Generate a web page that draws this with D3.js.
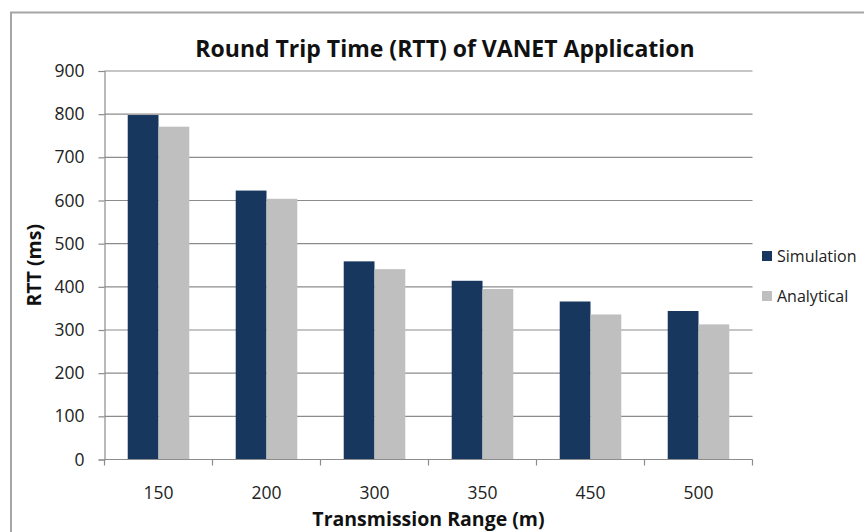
<!DOCTYPE html>
<html>
<head>
<meta charset="utf-8">
<script src="https://cdn.jsdelivr.net/npm/d3@7"></script>
<style>
  html, body { margin: 0; padding: 0; background: #fff; }
  svg { display: block; font-family: "Open Sans", Lato, sans-serif; }
</style>
</head>
<body>
<svg id="chart" width="864" height="532"></svg>
<script>
// Transmission ranges (m) along the x axis
const categories = ["150", "200", "300", "350", "450", "500"];
// Round trip time (ms) per range
const simulation = [798, 623, 459, 414, 366, 344];
const analytical = [771, 604, 441, 395, 336, 313];
const seriesNames = ["Simulation", "Analytical"];
const seriesColors = ["#17375E", "#BFBFBF"];
const yTicks = [0, 100, 200, 300, 400, 500, 600, 700, 800, 900];

const svg = d3.select("#chart");
const W = 864, H = 532;
const plot = { left: 104.5, right: 752.5, top: 71, bottom: 459.5 };
const axisColor = "#8C8C8C";

// Outer chart frame
svg.append("rect")
  .attr("x", 11).attr("y", 12.5)
  .attr("width", W + 20).attr("height", H + 20)
  .attr("fill", "#fff").attr("stroke", "#A6A6A6").attr("stroke-width", 2);

const x0 = d3.scaleBand().domain(categories)
  .range([plot.left, plot.right]).paddingInner(0.43).paddingOuter(0.215);
const x1 = d3.scaleBand().domain(seriesNames).range([0, x0.bandwidth()]);
const y = d3.scaleLinear().domain([0, 900]).range([plot.bottom, plot.top]);

// Horizontal gridlines
svg.append("g").selectAll("line").data(yTicks.filter(d => d > 0)).join("line")
  .attr("x1", plot.left).attr("x2", plot.right)
  .attr("y1", d => y(d)).attr("y2", d => y(d))
  .attr("stroke", axisColor).attr("stroke-width", 1.2);

// Bars
const rows = categories.map((c, i) => ({ cat: c, vals: [simulation[i], analytical[i]] }));
const groups = svg.append("g").selectAll("g").data(rows).join("g")
  .attr("transform", d => `translate(${x0(d.cat)},0)`);
groups.selectAll("rect").data(d => d.vals.map((v, j) => ({ v, s: seriesNames[j], j })))
  .join("rect")
  .attr("x", d => x1(d.s))
  .attr("y", d => y(d.v))
  .attr("width", x1.bandwidth())
  .attr("height", d => y(0) - y(d.v))
  .attr("fill", d => seriesColors[d.j]);

// Y axis
const yAxis = svg.append("g").attr("transform", `translate(${plot.left},0)`)
  .call(d3.axisLeft(y).tickValues(yTicks).tickSize(6).tickPadding(14));
yAxis.select(".domain").attr("stroke", axisColor).attr("stroke-width", 1.2);
yAxis.selectAll(".tick line").attr("stroke", axisColor).attr("stroke-width", 1.2);
yAxis.selectAll("text").attr("font-size", 17.5).attr("fill", "#222")
  .attr("font-family", "'Open Sans', sans-serif");

// X axis: baseline with ticks at category boundaries
const xg = svg.append("g");
xg.append("line").attr("x1", plot.left).attr("x2", plot.right)
  .attr("y1", plot.bottom).attr("y2", plot.bottom)
  .attr("stroke", axisColor).attr("stroke-width", 1.2);
const step = x0.step();
xg.selectAll("line.tk").data(d3.range(categories.length + 1)).join("line")
  .attr("class", "tk")
  .attr("x1", i => plot.left + i * step).attr("x2", i => plot.left + i * step)
  .attr("y1", plot.bottom).attr("y2", plot.bottom + 6)
  .attr("stroke", axisColor).attr("stroke-width", 1.2);
xg.selectAll("text").data(categories).join("text")
  .attr("x", d => x0(d) + x0.bandwidth() / 2)
  .attr("y", 499)
  .attr("text-anchor", "middle")
  .attr("font-size", 17.5).attr("fill", "#222")
  .text(d => d);

// Title
svg.append("text").attr("x", 445).attr("y", 57)
  .attr("text-anchor", "middle").attr("font-size", 23).attr("font-weight", "bold")
  .attr("fill", "#111")
  .text("Round Trip Time (RTT) of VANET Application");

// Axis titles, centred on the plot area
svg.append("text").attr("x", (plot.left + plot.right) / 2).attr("y", 526)
  .attr("text-anchor", "middle").attr("font-size", 19.5).attr("font-weight", "bold")
  .attr("fill", "#111")
  .text("Transmission Range (m)");
svg.append("text")
  .attr("transform", `translate(41,${(plot.top + plot.bottom) / 2}) rotate(-90)`)
  .attr("text-anchor", "middle").attr("font-size", 19.5).attr("font-weight", "bold")
  .attr("fill", "#111")
  .text("RTT (ms)");

// Legend
const legend = svg.append("g").selectAll("g").data(seriesNames).join("g")
  .attr("transform", (d, i) => `translate(762,${256 + i * 40})`);
legend.append("rect").attr("x", 0).attr("y", -5).attr("width", 10).attr("height", 10)
  .attr("fill", (d, i) => seriesColors[i]);
legend.append("text").attr("x", 15).attr("y", 6)
  .attr("font-size", 16).attr("fill", "#222")
  .text(d => d);
</script>
</body>
</html>
